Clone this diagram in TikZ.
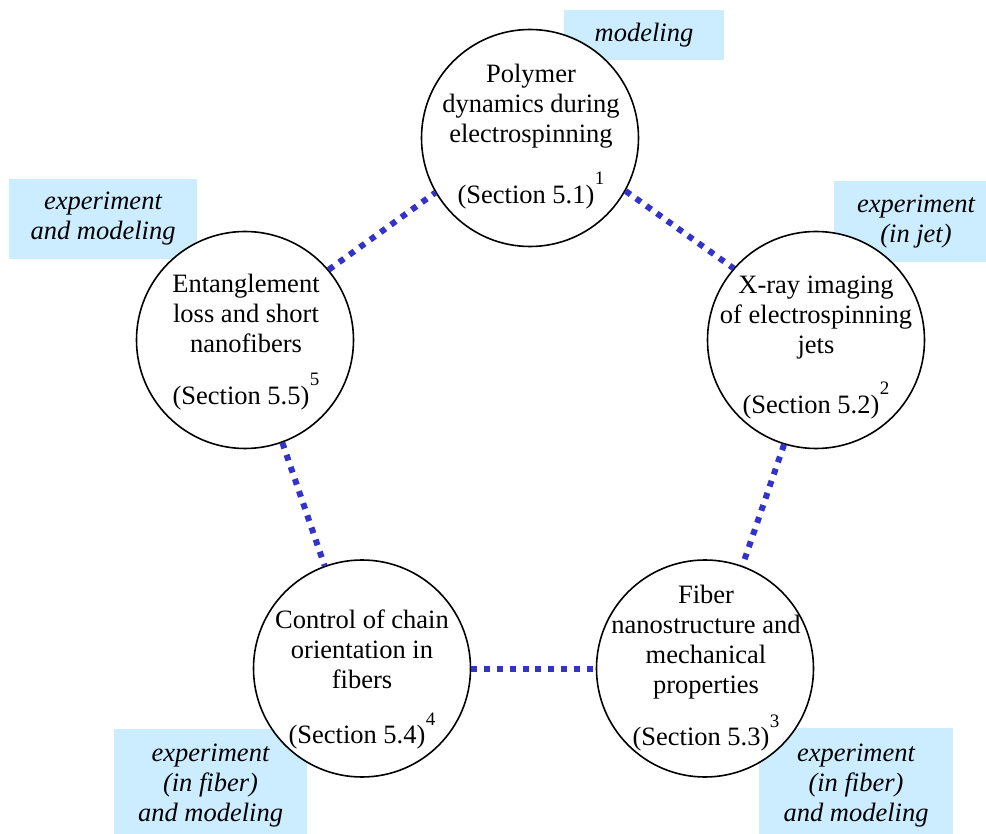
\documentclass[tikz,border=0pt]{standalone}
\usepackage{fontspec}
\setmainfont{Liberation Serif}
\definecolor{boxblue}{HTML}{CCECFF}
\definecolor{linkblue}{HTML}{3333CC}
\newcommand{\secsup}[1]{\kern0.5pt\raisebox{18.5pt}{\fontsize{19}{19}\selectfont #1}}
\begin{document}
\begin{tikzpicture}[x=1pt,y=-1pt,
  topic/.style={circle,draw=black,line width=1.6pt,fill=white,minimum size=217pt,inner sep=0pt},
  ttext/.style={align=center,font=\fontsize{26.5}{30}\selectfont,inner sep=0pt},
  tag/.style={fill=boxblue,inner sep=0pt,align=center,font=\fontsize{26.5}{30}\selectfont\itshape},
  link/.style={draw=linkblue,line width=6pt,dash pattern=on 6pt off 6.8pt}]
\useasboundingbox (0,0) rectangle (986,834);
\begin{scope}
\clip (0,0) rectangle (986,834);
% tags
\node[tag,minimum width=160pt,minimum height=50pt] (g1) at (644,35) {modeling};
\node[tag,minimum width=188pt,minimum height=80pt] (g5) at (103,219) {experiment\\and modeling};
\node[tag,minimum width=164pt,minimum height=81pt] (g2) at (916,221.5) {experiment\\(in jet)};
\node[tag,minimum width=193pt,minimum height=114pt] (g4) at (210.5,786) {experiment\\(in fiber)\\and modeling};
\node[tag,minimum width=194pt,minimum height=116pt] (g3) at (856,786) {experiment\\(in fiber)\\and modeling};
% circles
\node[topic] (c1) at (530,138) {};
\node[topic] (c2) at (816,340) {};
\node[topic] (c3) at (705,668.5) {};
\node[topic] (c4) at (362,668.5) {};
\node[topic] (c5) at (245,340) {};
% links
\draw[link] (c1.-29) -- (c2.139);
\draw[link] (c5.40) -- (c1.210);
\draw[link] (c5.-70) -- (c4.110);
\draw[link] (c2.-107) -- (c3.70);
\draw[link] (c4.0) -- (c3.180);
% texts
\node[ttext] (t1) at (531,136.3) {Polymer\\dynamics during\\electrospinning\\[23pt](Section 5.1)\secsup{1}};
\node[ttext] (t2) at (816,347.3) {X-ray imaging\\of electrospinning\\jets\\[22pt](Section 5.2)\secsup{2}};
\node[ttext] (t3) at (706,668) {Fiber\\nanostructure and\\mechanical\\properties\\[15pt](Section 5.3)\secsup{3}};
\node[ttext] (t4) at (362,679.8) {Control of chain\\orientation in\\fibers\\[23pt](Section 5.4)\secsup{4}};
\node[ttext] (t5) at (246,341.8) {Entanglement\\loss and short\\nanofibers\\[20pt](Section 5.5)\secsup{5}};
\end{scope}
\end{tikzpicture}
\end{document}
